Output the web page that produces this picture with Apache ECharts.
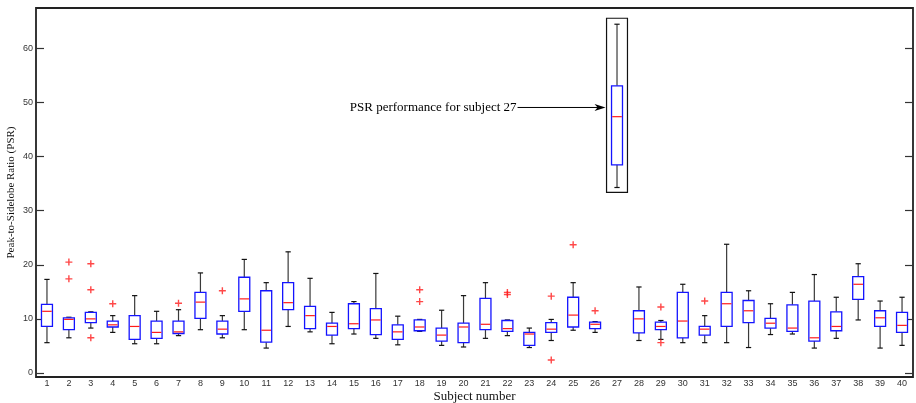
<!DOCTYPE html>
<html>
<head>
<meta charset="utf-8">
<script src="https://cdn.jsdelivr.net/npm/echarts@6/dist/echarts.min.js"></script>
<style>
  html, body { margin: 0; padding: 0; background: #fff; }
  #chart { width: 916px; height: 403px; }
</style>
</head>
<body>
<div id="chart"></div>
<script>
const subjects = Array.from({length: 40}, (_, i) => String(i + 1));
const whiskerLow = [5.6, 6.5, 8.3, 7.5, 5.4, 5.4, 6.9, 8.0, 6.5, 8.0, 4.6, 8.6, 7.6, 5.4, 7.2, 6.4, 5.2, 7.7, 5.1, 4.8,
                    6.4, 6.9, 4.7, 6.0, 7.9, 7.5, 34.3, 6.0, 6.2, 5.6, 5.6, 5.6, 4.7, 7.1, 7.2, 4.6, 6.4, 9.8, 4.6, 5.1];
const q1 = [8.6, 8.0, 9.3, 8.5, 6.2, 6.4, 7.3, 10.1, 7.2, 11.4, 5.7, 11.7, 8.2, 7.0, 8.2, 7.1, 6.2, 7.8, 5.9, 5.6,
            8.0, 7.7, 5.1, 7.5, 8.5, 8.2, 38.5, 7.4, 8.0, 6.5, 7.0, 8.6, 9.3, 8.3, 7.7, 5.9, 7.8, 13.6, 8.6, 7.5];
const median = [11.4, 9.9, 10.0, 8.9, 8.6, 7.5, 7.6, 13.1, 8.1, 13.7, 7.9, 13.0, 10.6, 8.6, 9.1, 9.8, 7.6, 8.5, 7.0, 8.5,
                9.0, 8.2, 7.2, 8.1, 10.7, 9.0, 47.4, 10.0, 8.6, 9.6, 8.1, 12.8, 11.5, 9.2, 8.3, 6.5, 8.6, 16.4, 10.2, 8.8];
const q3 = [12.7, 10.2, 11.2, 9.6, 10.6, 9.6, 9.6, 14.9, 9.6, 17.7, 15.2, 16.7, 12.3, 9.2, 12.8, 11.9, 8.9, 9.8, 8.3, 9.2,
            13.8, 9.7, 7.5, 9.3, 14.0, 9.4, 53.1, 11.5, 9.4, 14.9, 8.6, 14.9, 13.4, 10.1, 12.6, 13.3, 11.3, 17.8, 11.5, 11.2];
const whiskerHigh = [17.3, 10.3, 11.3, 10.6, 14.3, 11.4, 11.7, 18.5, 10.6, 21.0, 16.7, 22.4, 17.5, 11.2, 13.2, 18.4, 10.5, 9.9, 11.6, 14.3,
                     16.7, 9.8, 8.3, 9.9, 16.7, 9.5, 64.5, 15.9, 9.7, 16.4, 10.6, 23.8, 15.2, 12.8, 14.9, 18.2, 14.0, 20.2, 13.3, 14.0];
const outliers = [['2', 20.5], ['2', 17.4], ['3', 20.2], ['3', 15.4], ['3', 6.5], ['4', 12.8], ['7', 12.9], ['9', 15.2],
                  ['18', 15.4], ['18', 13.2], ['22', 14.9], ['22', 14.5], ['24', 14.2], ['24', 2.4], ['25', 23.7],
                  ['26', 11.5], ['29', 12.2], ['29', 5.6], ['31', 13.3]];
const yTicks = [0, 10, 20, 30, 40, 50, 60];
// subject, box bottom, box top, arrow level
const highlight = [['27', 33.4, 65.6, 49.1]];
const highlightText = 'PSR performance for subject 27';

const boxData = subjects.map((s, i) => [s, whiskerLow[i], q1[i], median[i], q3[i], whiskerHigh[i]]);

const serif = '"Liberation Serif", "DejaVu Serif", serif';
const sans = '"Liberation Sans", Arial, sans-serif';

function hline(x1, x2, y, color) {
    return {type: 'line', shape: {x1: x1, y1: y, x2: x2, y2: y}, style: {stroke: color, lineWidth: 1.2}};
}
function vline(x, y1, y2, color) {
    return {type: 'line', shape: {x1: x, y1: y1, x2: x, y2: y2}, style: {stroke: color, lineWidth: 1.2}};
}

function renderBox(params, api) {
    const x = api.value(0);
    const band = api.size([1, 0])[0];
    const p = v => api.coord([x, v]);
    const lo = p(api.value(1)), a = p(api.value(2)), m = p(api.value(3)), b = p(api.value(4)), hi = p(api.value(5));
    const cx = lo[0];
    const bw = band * 0.5, cw = band * 0.24;
    const wc = '#3a3a3a';
    return {
        type: 'group',
        children: [
            vline(cx, hi[1], b[1], wc),
            vline(cx, a[1], lo[1], wc),
            hline(cx - cw / 2, cx + cw / 2, hi[1], '#111'),
            hline(cx - cw / 2, cx + cw / 2, lo[1], '#111'),
            {type: 'rect', shape: {x: cx - bw / 2, y: b[1], width: bw, height: a[1] - b[1]},
             style: {fill: '#fff', stroke: '#1414ff', lineWidth: 1.3}},
            hline(cx - bw / 2 + 0.7, cx + bw / 2 - 0.7, m[1], '#ff1a1a')
        ]
    };
}

function renderHighlight(params, api) {
    const x = api.value(0);
    const band = api.size([1, 0])[0];
    const lo = api.coord([x, api.value(1)]);
    const hi = api.coord([x, api.value(2)]);
    const ar = api.coord([x, api.value(3)]);
    const left = lo[0] - band / 2 + 0.5;
    const tip = left - 1;
    const tail = tip - 88;
    const y = ar[1];
    return {
        type: 'group',
        children: [
            {type: 'rect', shape: {x: left, y: hi[1], width: band - 1, height: lo[1] - hi[1]},
             style: {fill: 'none', stroke: '#111', lineWidth: 1.2}},
            {type: 'line', shape: {x1: tail, y1: y, x2: tip - 6, y2: y}, style: {stroke: '#000', lineWidth: 1}},
            {type: 'polygon', shape: {points: [[tip, y], [tip - 11, y - 3.5], [tip - 8, y], [tip - 11, y + 3.5]]},
             style: {fill: '#000'}},
            {type: 'text', x: tail - 1, y: y,
             style: {text: highlightText, fill: '#000', font: '13px ' + serif, align: 'right', verticalAlign: 'middle'}}
        ]
    };
}

const chart = echarts.init(document.getElementById('chart'));
chart.setOption({
    animation: false,
    grid: {left: 36, right: 3, top: 8, bottom: 26, show: true, borderColor: '#222', borderWidth: 1.8,
           containLabel: false, outerBoundsMode: 'none'},
    xAxis: {
        type: 'category',
        data: subjects,
        axisLine: {show: false},
        axisTick: {show: false},
        axisLabel: {fontSize: 9, color: '#333', fontFamily: sans, margin: 2, interval: 0},
        name: 'Subject number',
        nameLocation: 'middle',
        nameGap: 13,
        nameMoveOverlap: false,
        nameTextStyle: {fontFamily: serif, fontSize: 13, color: '#111'}
    },
    yAxis: [
        {
            type: 'value', min: -0.75, max: 67.5,
            axisLine: {show: false},
            splitLine: {show: false},
            axisTick: {show: true, inside: true, length: 8, customValues: yTicks, lineStyle: {color: '#333', width: 1.2}},
            axisLabel: {customValues: yTicks, fontSize: 9, color: '#333', fontFamily: sans, margin: 3},
            name: 'Peak-to-Sidelobe Ratio (PSR)',
            nameLocation: 'middle',
            nameGap: 19,
            nameMoveOverlap: false,
            nameTextStyle: {fontFamily: serif, fontSize: 11, color: '#111'}
        },
        {
            type: 'value', min: -0.75, max: 67.5, position: 'right',
            axisLine: {show: false},
            splitLine: {show: false},
            axisTick: {show: true, inside: true, length: 8, customValues: yTicks, lineStyle: {color: '#333', width: 1.2}},
            axisLabel: {show: false}
        }
    ],
    series: [
        {
            type: 'custom',
            renderItem: renderBox,
            encode: {x: 0, y: [1, 2, 3, 4, 5]},
            data: boxData
        },
        {
            type: 'scatter',
            symbol: 'path://M-0.2,-1H0.2V-0.2H1V0.2H0.2V1H-0.2V0.2H-1V-0.2H-0.2Z',
            symbolSize: 7,
            itemStyle: {color: '#ff1a1a'},
            data: outliers
        },
        {
            type: 'custom',
            renderItem: renderHighlight,
            encode: {x: 0, y: [1, 2, 3]},
            data: highlight,
            z: 5
        }
    ]
});
</script>
</body>
</html>
